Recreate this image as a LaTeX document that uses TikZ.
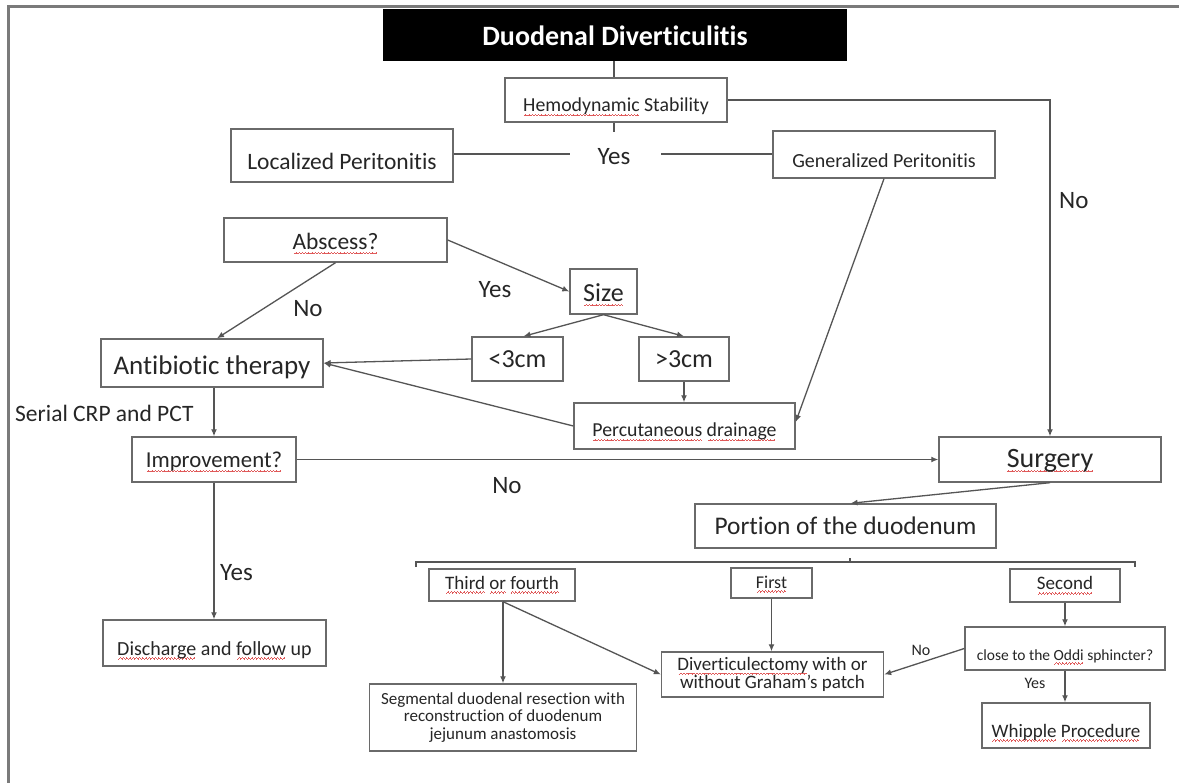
\documentclass[tikz,border=0pt]{standalone}
\usepackage{fontspec}
\setmainfont{Carlito}[Ligatures={CommonOff,TeX}]
\usetikzlibrary{arrows.meta}
\definecolor{boxc}{HTML}{6A6A6A}
\definecolor{linec}{HTML}{555555}
\definecolor{txtc}{HTML}{262626}
\definecolor{wavec}{HTML}{E05A5A}
\definecolor{framec}{HTML}{7A7A7A}
\newsavebox\sqbox
\newcommand\wavepiece{\hbox{\rule[-4.2pt]{0.8pt}{0.7pt}\rule[-3.6pt]{0.8pt}{0.7pt}\rule[-3.0pt]{0.8pt}{0.7pt}\rule[-3.6pt]{0.8pt}{0.7pt}}}
\newcommand\sq[1]{\sbox\sqbox{#1}\leavevmode\rlap{\textcolor{wavec}{\hbox to \wd\sqbox{\cleaders\wavepiece\hfill}}}\usebox\sqbox}
\newcommand\boxnode[8]{%
  \pgfmathsetmacro\bxw{#3-#2}%
  \pgfmathsetmacro\bxh{#6-#4}%
  \pgfmathsetmacro\bxd{#5-#6}%
  \node[bx,#7,minimum width=\bxw pt,text height=\bxh pt,text depth=\bxd pt] (#1) at ({(#2+#3)/2},{(#4+#5)/2}) {#8};}
\tikzset{
  bx/.style={draw=boxc, line width=1.4pt, inner xsep=0pt, inner ysep=0pt, text=txtc},
  con/.style={draw=linec, line width=1.3pt},
  arr/.style={con, -{Latex[length=7pt,width=6pt]}},
  lbl/.style={text=txtc, inner sep=0pt, anchor=base},
  fs/.style={font=\fontsize{#1}{#1}\selectfont},
  ttl/.style={fill=black, draw=black, text=white, font=\fontsize{28}{28}\selectfont\bfseries},
}
\begin{document}
\begin{tikzpicture}[x=1pt,y=-1pt]
\useasboundingbox (0,0) rectangle (1179,783);
\fill[white] (0,0) rectangle (1179,783);
% frame
\draw[draw=framec, line width=3pt] (8,783) -- (8,7) -- (1179,7);

% boxes
\boxnode{title}{384}{846}{10}{60}{46}{ttl}{Duodenal Diverticulitis}
\boxnode{hemo}{505}{727}{78}{122}{112}{fs=19.8}{\sq{Hemodynamic} Stability}
\boxnode{loc}{231}{453}{129}{182}{170}{fs=23.5}{Localized Peritonitis}
\boxnode{gen}{773}{995}{131}{178}{168}{fs=20}{Generalized Peritonitis}
\boxnode{absc}{224}{447}{218}{262}{250}{fs=23.5}{\sq{Abscess?}}
\boxnode{size}{570}{637}{269}{314}{302}{fs=26}{\sq{Size}}
\boxnode{lt3}{472}{563}{337}{381}{368}{fs=26}{<3cm}
\boxnode{gt3}{639}{729}{337}{381}{368}{fs=26}{>3cm}
\boxnode{anti}{101}{323}{339}{387}{375}{fs=27}{Antibiotic therapy}
\boxnode{perc}{574}{795}{403}{449}{437}{fs=19.8}{\sq{Percutaneous} \sq{drainage}}
\boxnode{impr}{132}{296}{437}{482}{468}{fs=22.8}{\sq{Improvement?}}
\boxnode{surg}{939}{1161}{437}{482}{468}{fs=28}{\sq{Surgery}}
\boxnode{disch}{103}{326}{620}{666}{655}{fs=20}{\sq{Discharge} and \sq{follow} up}
\boxnode{portion}{695}{996}{504}{548}{535}{fs=25.4}{Portion of the duodenum}
\boxnode{third}{429}{575}{569}{601}{589}{fs=19}{\sq{Third} \sq{or} \sq{fourth}}
\boxnode{first}{731}{812}{568}{598}{588}{fs=18}{\sq{First}}
\boxnode{second}{1010}{1120}{569}{602}{590}{fs=19}{\sq{Second}}
\boxnode{close}{965}{1165}{627}{670}{660}{fs=15.5}{close to the \sq{Oddi} sphincter?}
\boxnode{whip}{982}{1150}{703}{748}{737}{fs=19}{\sq{Whipple} \sq{Procedure}}
\node[bx, font=\fontsize{19}{18.5}\selectfont, align=center, minimum width=222pt, minimum height=45pt] (div) at (772.5,674.5) {\sq{Diverticulectomy} with or\\without Graham's patch};
\node[bx, font=\fontsize{17}{17.8}\selectfont, align=center, minimum width=267pt, minimum height=67pt] (seg) at (503,717.5) {Segmental duodenal resection with\\reconstruction of duodenum\\jejunum anastomosis};

% labels
\node[lbl, fs=25] (yes1) at (614,165) {Yes};
\node[lbl, fs=25, anchor=base west] (noR) at (1059,209) {No};
\node[lbl, fs=25] (noA) at (308,317) {No};
\node[lbl, fs=25] (yesA) at (495,298) {Yes};
\node[lbl, fs=23.5, anchor=base west] (serial) at (15,422) {Serial CRP and PCT};
\node[lbl, fs=25] (noI) at (507,494) {No};
\node[lbl, fs=25, anchor=base west] (yesI) at (220,580) {Yes};
\node[lbl, fs=16] (noS) at (921,655) {No};
\node[lbl, fs=16] (yesS) at (1035,688) {Yes};

% helper coordinates
\coordinate (ytop) at (614,132);
\coordinate (ylft) at (570,154);
\coordinate (yrgt) at (661,154);
\coordinate (brL) at (416,562);
\coordinate (brR) at (1135,562);
\coordinate (brC) at (850,562);

% connectors
\draw[con] (title.south -| ytop) -- (hemo.north -| ytop);
\draw[con] (hemo.south -| ytop) -- (ytop);
\draw[con] (loc.east |- ylft) -- (ylft);
\draw[con] (yrgt) -- (gen.west |- yrgt);
\draw[arr] (hemo.east) -| (surg.north);
\draw[arr] (absc.south) -- ([xshift=5pt]anti.north);
\draw[arr] (absc.east) -- (size.west);
\draw[arr] (size.south) -- ([xshift=6pt]lt3.north);
\draw[arr] (size.south) -- (gt3.north);
\draw[arr] (gt3.south) -- (gt3.south |- perc.north);
\draw[arr] (lt3.west) -- (anti.east);
\draw[arr] (perc.west) -- (anti.east);
\draw[arr] (gen.south) -- ([yshift=4pt]perc.east);
\draw[arr] (impr.north |- anti.south) -- (impr.north);
\draw[arr] (impr.east) -- (surg.west);
\draw[arr] (impr.south) -- (impr.south |- disch.north);
\draw[arr] (surg.south) -- ([xshift=5pt]portion.north);
\draw[con] ([yshift=-5pt]brL) -- (brL) -- (brR) -- ([yshift=-5pt]brR);
\draw[con] (brC) -- ([yshift=4pt]brC);
\draw[arr] (third.south -| seg.north) -- (seg.north);
\draw[arr] (third.south -| seg.north) -- (div.west);
\draw[arr] (first.south) -- (first.south |- div.north);
\draw[arr] (second.south) -- (second.south |- close.north);
\draw[arr] (close.west) -- (div.east);
\draw[arr] (close.south) -- (close.south |- whip.north);
\end{tikzpicture}
\end{document}
